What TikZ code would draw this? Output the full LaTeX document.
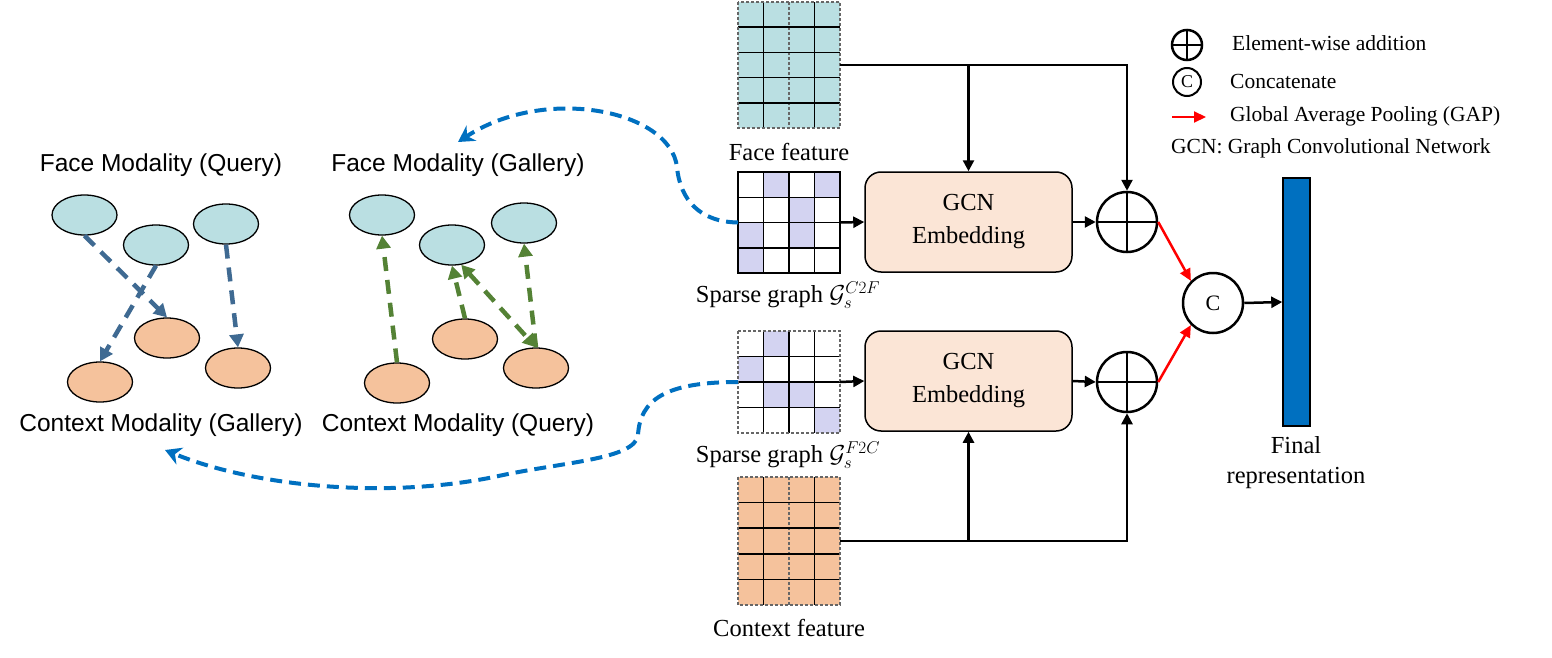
\documentclass[tikz,border=0pt]{standalone}
\usepackage{fix-cm}
\usepackage{fontspec}
\setmainfont{Liberation Serif}
\setsansfont{Liberation Sans}
\usetikzlibrary{arrows.meta,shapes.geometric,calc}
\definecolor{facecol}{HTML}{BADFE2}
\definecolor{ctxcol}{HTML}{F5C29C}
\definecolor{lavcol}{HTML}{D3D3F1}
\definecolor{gcncol}{HTML}{FBE5D6}
\definecolor{barcol}{HTML}{0070C0}
\definecolor{arrblue}{HTML}{3F6A92}
\definecolor{arrgreen}{HTML}{548235}
\definecolor{curveblue}{HTML}{0070C0}
\begin{document}
\begin{tikzpicture}[x=1pt,y=-1pt,
 ell/.style={ellipse, draw, line width=1.3pt, minimum width=65pt, minimum height=40pt, inner sep=0pt},
 fq/.style={ell, fill=facecol},
 cq/.style={ell, fill=ctxcol},
 bluedash/.style={draw=arrblue, line width=4.5pt, dash pattern=on 14pt off 9pt, -{Triangle[length=13pt,width=14pt]}},
 greendash/.style={draw=arrgreen, line width=4.5pt, dash pattern=on 14pt off 9pt, -{Triangle[length=13pt,width=14pt]}},
 curvearr/.style={draw=curveblue, line width=4pt, dash pattern=on 12pt off 7pt, -{Stealth[length=16pt,width=18pt]}},
 blk/.style={line width=2.5pt, -{Triangle[length=11pt,width=11pt]}},
 redarr/.style={draw=red, line width=2.5pt, -{Triangle[length=12pt,width=11pt]}},
 sanslab/.style={font=\sffamily\fontsize{24.5}{29}\selectfont, inner sep=0pt},
 serlab/.style={font=\fontsize{24.5}{30}\selectfont, inner sep=0pt, align=center},
 leglab/.style={font=\fontsize{21.5}{26}\selectfont, anchor=west, inner sep=0pt},
 gcnbox/.style={draw, line width=1.5pt, fill=gcncol, rounded corners=16pt, minimum width=207pt, minimum height=100pt, align=center, font=\fontsize{24.5}{33}\selectfont},
 circ/.style={circle, draw, line width=2.5pt, minimum size=60pt, inner sep=0pt},
 matbox/.style={rectangle, minimum width=102pt, inner sep=0pt, outer sep=0pt},
 gridl/.style={line width=1.5pt},
 gridd/.style={line width=1.3pt, draw=black!60, dash pattern=on 3pt off 2pt},
]
\useasboundingbox (0,0) rectangle (1552,658);

% ---------- left graph 1 ----------
\node[sanslab] (t1) at (161,165) {Face Modality (Query)};
\node[sanslab] (t2) at (161,425) {Context Modality (Gallery)};
\node[fq] (e1) at (84.5,215) {};
\node[fq] (e2) at (156,245) {};
\node[fq] (e3) at (226,224) {};
\node[cq] (o1) at (100,382) {};
\node[cq] (o2) at (167,338) {};
\node[cq] (o3) at (238,368) {};
\draw[bluedash] (e1.south) -- (o2.north);
\draw[bluedash] (e2.south) -- (o1.north);
\draw[bluedash] (e3.south) -- (o3.north);

% ---------- left graph 2 ----------
\node[sanslab] (t3) at (458,165) {Face Modality (Gallery)};
\node[sanslab] (t4) at (458,425) {Context Modality (Query)};
\node[fq] (g1) at (382,215) {};
\node[fq] (g2) at (452,245) {};
\node[fq] (g3) at (524,223) {};
\node[cq] (q1) at (397,383) {};
\node[cq] (q2) at (465,339) {};
\node[cq] (q3) at (536,368) {};
\draw[greendash] (q1.north) -- (g1.south);
\draw[greendash] (q2.north) -- (g2.south);
\draw[greendash] (q3.north) -- (g3.south);
\draw[greendash, {Triangle[length=13pt,width=14pt]}-{Triangle[length=13pt,width=14pt]}] (g2.-65) -- (q3.north);

% ---------- matrices ----------
% face feature
\node[matbox, minimum height=126pt] (ff) at (789,65) {};
\fill[facecol] (738,2) rectangle (840,128);
\foreach \i in {1,3} \draw[gridl] (738+25.5*\i,2) -- (738+25.5*\i,128);
\draw[gridd] (789,2) -- (789,128);
\foreach \j in {1,...,4} \draw[gridl] (738,2+25.2*\j) -- (840,2+25.2*\j);
\draw[gridd] (738,2) rectangle (840,128);
\node[serlab] (ffl) at (789,152) {Face feature};

% sparse graph C2F
\node[matbox, minimum height=101pt] (sp1) at (789,222.5) {};
\foreach \c/\r in {1/0,3/0,2/1,0/2,2/2,0/3} \fill[lavcol] (738+25.5*\c,172+25.25*\r) rectangle ++(25.5,25.25);
\foreach \i in {1,2,3} \draw[gridl] (738+25.5*\i,172) -- (738+25.5*\i,273);
\foreach \j in {1,2,3} \draw[gridl] (738,172+25.25*\j) -- (840,172+25.25*\j);
\draw[gridl] (738,172) rectangle (840,273);
\node[serlab] (sp1l) at (788,295) {Sparse graph $\mathcal{G}_s^{C2F}$};

% sparse graph F2C
\node[matbox, minimum height=102pt] (sp2) at (789,382) {};
\foreach \c/\r in {1/0,0/1,1/2,2/2,3/3} \fill[lavcol] (738+25.5*\c,331+25.5*\r) rectangle ++(25.5,25.5);
\foreach \i in {1,2,3} \draw[gridl] (738+25.5*\i,331) -- (738+25.5*\i,433);
\foreach \j in {1,2,3} \draw[gridl] (738,331+25.5*\j) -- (840,331+25.5*\j);
\draw[gridd] (738,331) rectangle (840,433);
\node[serlab] (sp2l) at (788,455) {Sparse graph $\mathcal{G}_s^{F2C}$};

% context feature
\node[matbox, minimum height=128pt] (cf) at (789,541) {};
\fill[ctxcol] (738,477) rectangle (840,605);
\foreach \i in {1,3} \draw[gridl] (738+25.5*\i,477) -- (738+25.5*\i,605);
\draw[gridd] (789,477) -- (789,605);
\foreach \j in {1,...,4} \draw[gridl] (738,477+25.6*\j) -- (840,477+25.6*\j);
\draw[gridd] (738,477) rectangle (840,605);
\node[serlab] (cfl) at (789,628) {Context feature};

% ---------- curved dashed arrows ----------
\draw[curvearr] (sp1.west) .. controls (700,222) and (680,200) .. (677,167)
  .. controls (670,110) and (545,85) .. (458,142);
\draw[curvearr] (sp2.west) .. controls (665,382) and (640,400) .. (638,435)
  .. controls (635,460) and (560,462) .. (494,477)
  .. controls (380,500) and (250,485) .. (165,450);

% ---------- GCN part ----------
\node[gcnbox] (gcn1) at (968.5,222) {GCN\\Embedding};
\node[gcnbox] (gcn2) at (968.5,381) {GCN\\Embedding};
\node[circ] (p1) at (1127,222) {};
\node[circ] (p2) at (1127,382) {};
\draw[line width=2.5pt] (p1.north) -- (p1.south) (p1.west) -- (p1.east);
\draw[line width=2.5pt] (p2.north) -- (p2.south) (p2.west) -- (p2.east);
\node[circ, font=\fontsize{22}{24}\selectfont] (cc) at (1213,303) {C};
\node[draw, line width=1.5pt, fill=barcol, minimum width=27pt, minimum height=248pt, inner sep=0pt] (bar) at (1296.5,302) {};
\node[serlab] (barl) at (1296,463) {Final\\representation};

\draw[blk] (sp1.east) -- (gcn1.west);
\draw[blk] (sp2.east) -- (gcn2.west);
\draw[blk] (gcn1.east) -- (p1.west);
\draw[blk] (gcn2.east) -- (p2.west);
\draw[blk] (ff.east) -| (p1.north);
\draw[blk] (ff.east -| gcn1.north) -- (gcn1.north);
\draw[blk] (cf.east) -| (p2.south);
\draw[blk] (cf.east -| gcn2.south) -- (gcn2.south);
\draw[redarr] (p1.east) -- (cc.north west);
\draw[redarr] (p2.east) -- (cc.south west);
\draw[blk] (cc.east) -- (bar.west);

% ---------- legend ----------
\node[circle, draw, line width=2.5pt, minimum size=30pt, inner sep=0pt] (lp) at (1187,45) {};
\draw[line width=2.5pt] (lp.north) -- (lp.south) (lp.west) -- (lp.east);
\node[leglab] (l1) at (1232,43) {Element-wise addition};
\node[circle, draw, line width=2pt, minimum size=28pt, inner sep=0pt, font=\fontsize{18}{20}\selectfont] (lc) at (1187,82) {C};
\node[leglab] (l2) at (1230,81) {Concatenate};
\coordinate (la) at (1172,117);
\coordinate (lb) at (1206,117);
\draw[redarr, line width=2pt] (la) -- (lb);
\node[leglab] (l3) at (1230,116) {Global Average Pooling (GAP)};
\node[leglab] (l4) at (1171,148) {GCN: Graph Convolutional Network};
\end{tikzpicture}
\end{document}
